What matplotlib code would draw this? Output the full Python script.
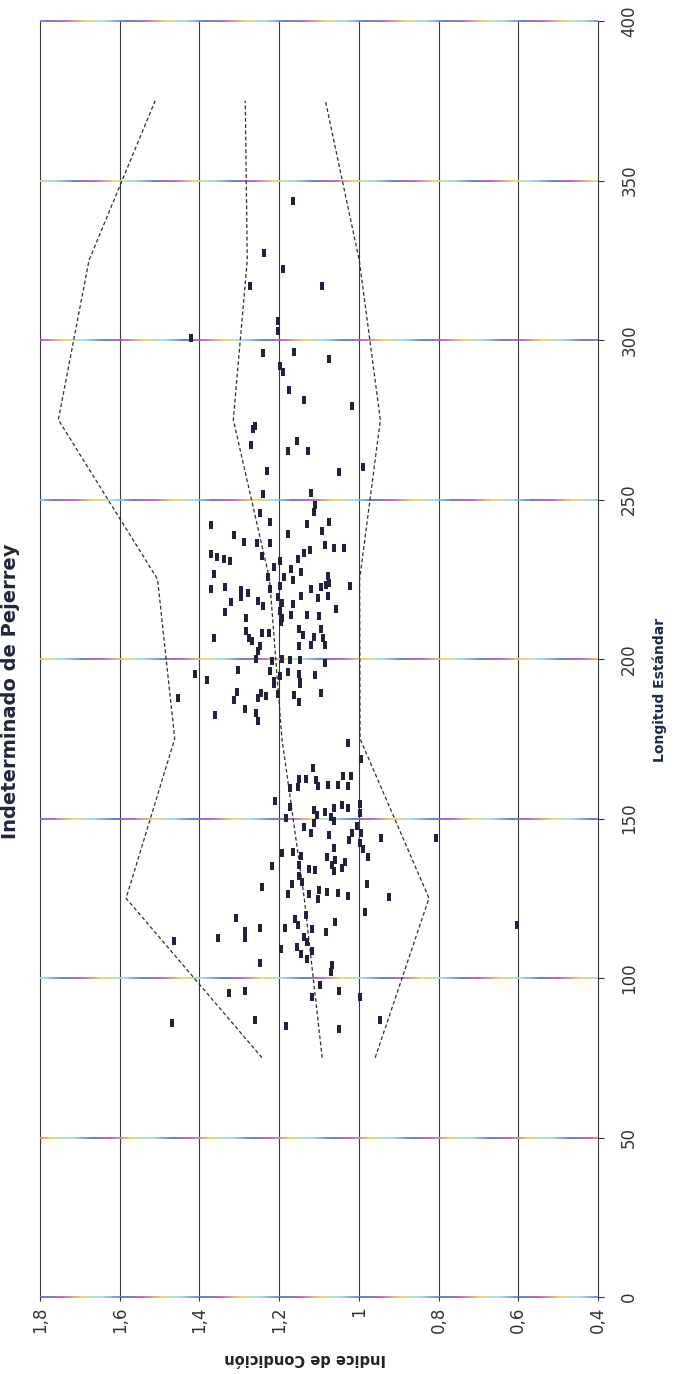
import numpy as np
import matplotlib
matplotlib.use("Agg")
import matplotlib.pyplot as plt
from matplotlib.collections import LineCollection
from matplotlib.colors import LinearSegmentedColormap

# scanned chart printed sideways: Indice de Condicion runs along the bottom,
# Longitud Estandar up the right side

indice = [
    1.164, 1.239, 1.191, 1.273, 1.093, 1.204, 1.203, 1.422, 1.240, 1.163,
    1.075, 1.197, 1.190, 1.176, 1.138, 1.017, 1.261, 1.266, 1.270, 1.179,
    1.154, 1.128, 1.230, 1.050, 0.989, 1.241, 1.121, 1.110, 1.112, 1.247,
    1.222, 1.372, 1.130, 1.074, 1.313, 1.179, 1.093, 1.287, 1.256, 1.223,
    1.086, 1.062, 1.038, 1.371, 1.356, 1.339, 1.324, 1.243, 1.197, 1.152,
    1.123, 1.138, 1.213, 1.171, 1.146, 1.363, 1.229, 1.187, 1.166, 1.078,
    1.074, 1.082, 1.199, 1.370, 1.337, 1.295, 1.278, 1.224, 1.119, 1.096,
    1.023, 1.295, 1.202, 1.144, 1.102, 1.077, 1.321, 1.252, 1.240, 1.194,
    1.164, 1.337, 1.058, 1.197, 1.194, 1.171, 1.130, 1.101, 1.283, 1.196,
    1.284, 1.244, 1.225, 1.150, 1.140, 1.096, 1.363, 1.275, 1.267, 1.112,
    1.091, 1.249, 1.253, 1.149, 1.120, 1.084, 1.257, 1.219, 1.192, 1.173,
    1.148, 1.085, 1.412, 1.380, 1.304, 1.223, 1.197, 1.177, 1.149, 1.110,
    1.214, 1.147, 1.453, 1.305, 1.313, 1.246, 1.234, 1.254, 1.214, 1.204,
    1.163, 1.150, 1.147, 1.096, 1.361, 1.286, 1.258, 1.253, 1.026, 0.995,
    1.114, 1.149, 1.132, 1.107, 1.173, 1.152, 1.102, 1.077, 1.052, 1.040,
    1.019, 1.027, 1.210, 1.172, 1.113, 1.084, 1.063, 1.043, 1.026, 0.996,
    0.996, 1.184, 1.105, 1.071, 1.062, 1.137, 1.112, 1.120, 1.004, 1.016,
    0.995, 1.074, 1.024, 0.998, 0.944, 0.806, 0.989, 0.976, 1.194, 1.165,
    1.144, 1.062, 1.081, 1.060, 1.036, 1.218, 1.151, 1.126, 1.109, 1.068,
    1.063, 1.042, 1.151, 1.242, 1.167, 1.142, 1.179, 1.125, 1.100, 1.103,
    1.079, 1.053, 1.028, 0.979, 0.924, 0.985, 1.307, 1.132, 1.161, 1.060,
    1.285, 1.285, 1.249, 1.185, 1.152, 1.118, 1.082, 1.465, 1.354, 1.138,
    1.130, 1.196, 1.156, 1.144, 1.117, 1.129, 1.247, 1.068, 1.071, 1.327,
    1.285, 1.098, 1.051, 1.118, 0.996, 1.468, 1.261, 1.183, 1.051, 0.947,
    0.604,
]
longitud = [
    343.5, 327.4, 322.2, 316.9, 316.8, 306.0, 302.9, 300.7, 296.0, 296.1,
    294.1, 292.0, 289.9, 284.2, 281.2, 279.3, 273.0, 272.0, 267.1, 265.1,
    268.2, 265.2, 259.0, 258.5, 260.1, 251.8, 252.1, 248.2, 246.1, 245.8,
    242.8, 241.9, 242.3, 243.1, 239.0, 239.3, 240.0, 236.6, 236.4, 236.5,
    235.8, 234.8, 234.9, 233.0, 232.1, 231.5, 230.7, 232.3, 230.8, 231.4,
    234.1, 233.1, 228.7, 228.3, 227.2, 226.8, 225.7, 225.6, 224.8, 225.9,
    223.8, 223.3, 223.0, 221.8, 222.7, 221.7, 220.7, 221.9, 222.1, 222.6,
    222.8, 219.3, 219.3, 219.6, 219.0, 219.6, 218.0, 218.2, 216.6, 217.7,
    217.3, 214.6, 215.6, 215.1, 213.0, 213.7, 213.8, 213.4, 212.8, 211.5,
    208.7, 208.2, 208.2, 209.5, 207.4, 209.3, 206.7, 206.6, 205.6, 207.0,
    206.5, 204.0, 202.5, 204.2, 204.3, 204.4, 199.9, 199.5, 200.0, 199.6,
    199.6, 198.7, 195.3, 193.3, 196.6, 196.3, 194.7, 195.9, 195.4, 194.9,
    193.2, 192.7, 187.9, 189.8, 187.1, 189.4, 188.4, 187.8, 192.1, 189.0,
    188.6, 186.5, 192.2, 189.4, 182.6, 184.4, 183.1, 180.5, 173.7, 168.6,
    165.7, 162.5, 162.5, 162.0, 159.7, 159.8, 160.1, 160.6, 160.6, 163.2,
    163.3, 160.3, 155.6, 153.5, 152.6, 152.1, 153.3, 154.3, 153.4, 154.4,
    151.8, 150.3, 151.1, 150.6, 149.1, 147.3, 148.5, 145.3, 147.6, 145.5,
    145.5, 144.9, 143.4, 142.4, 144.0, 143.9, 140.3, 137.8, 139.3, 139.4,
    138.4, 140.7, 138.0, 137.0, 136.5, 135.1, 135.3, 134.2, 133.8, 135.5,
    133.4, 134.4, 132.1, 128.5, 129.4, 130.0, 126.3, 126.4, 127.5, 124.9,
    127.0, 126.6, 125.6, 129.4, 125.3, 120.6, 118.7, 119.6, 118.5, 117.7,
    114.6, 112.5, 115.6, 115.8, 116.5, 115.4, 114.5, 111.6, 112.5, 112.8,
    111.2, 109.1, 109.7, 107.6, 108.6, 106.0, 104.7, 104.1, 101.9, 95.2,
    95.8, 97.8, 95.8, 94.0, 94.1, 86.0, 86.9, 85.0, 84.0, 86.9,
    116.7,
]

# envelope lines
env_longitud = [75, 125, 175, 225, 275, 325, 375]
env_superior = [1.243, 1.584, 1.462, 1.505, 1.754, 1.677, 1.511]
env_medio = [1.092, 1.137, 1.193, 1.224, 1.315, 1.280, 1.285]
env_inferior = [0.959, 0.824, 0.997, 0.998, 0.946, 0.999, 1.084]

indice_ticks = [1.8, 1.6, 1.4, 1.2, 1.0, 0.8, 0.6, 0.4]
indice_labels = ["1,8", "1,6", "1,4", "1,2", "1", "0,8", "0,6", "0,4"]
longitud_ticks = [0, 50, 100, 150, 200, 250, 300, 350, 400]

W, H = 674, 1374
fig = plt.figure(figsize=(W / 100, H / 100), dpi=100)
ax = fig.add_axes([40 / W, 1 - 1297 / H, 558 / W, 1276 / H])
ax.set_xlim(1.8, 0.4)
ax.set_ylim(0, 400)
for s in ax.spines.values():
    s.set_visible(False)

# vertical grid (black)
for v in indice_ticks:
    ax.axvline(v, color="#383838", lw=0.8, zorder=1, clip_on=False)

# horizontal grid with the colour fringe of the scan
scan = LinearSegmentedColormap.from_list(
    "scan", ["#5a72d0", "#b95cbb", "#ecd65a", "#98dfee", "#5a72d0"])
xs = np.linspace(1.8, 0.4, 141)
for i, L in enumerate(longitud_ticks):
    segs = [[(xs[k], L), (xs[k + 1], L)] for k in range(len(xs) - 1)]
    phase = ((1.8 - xs[:-1]) / 0.2 + 0.37 * i) % 1.0
    lc = LineCollection(segs, colors=scan(phase), linewidths=1.3,
                        zorder=1, clip_on=False)
    ax.add_collection(lc)

for env in (env_superior, env_medio, env_inferior):
    ax.plot(env, env_longitud, color="#2e2e2e", lw=0.9,
            ls=(0, (3, 2)), zorder=2)

rect = [(-0.55, -1), (0.55, -1), (0.55, 1), (-0.55, 1), (-0.55, -1)]
ax.scatter(indice, longitud, marker=rect, s=28, color="#22223a",
           linewidths=0, zorder=3)

ax.set_xticks(indice_ticks)
ax.set_xticklabels(indice_labels, rotation=90)
ax.tick_params(axis="x", length=3, pad=4, labelsize=12,
               colors="#333333")

ax.yaxis.tick_right()
ax.set_yticks(longitud_ticks)
ax.set_yticklabels([str(v) for v in longitud_ticks], rotation=90,
                   va="center")
ax.tick_params(axis="y", length=4, pad=12, labelsize=12,
               colors="#333333")

fig.text(11 / W, 1 - 691 / H, "Indeterminado de Pejerrey", rotation=90,
         fontsize=14, fontweight="bold", ha="center", va="center",
         color="#22263a")
fig.text(660 / W, 1 - 690 / H, "Longitud Estándar", rotation=90,
         fontsize=10, fontweight="bold", ha="center", va="center",
         color="#1f2a4a")
fig.text(305 / W, 1 - 1358 / H, "Indice de Condición", rotation=180,
         fontsize=10.5, fontweight="bold", ha="center", va="center",
         color="#222222")

fig.savefig("out.png", dpi=100)
